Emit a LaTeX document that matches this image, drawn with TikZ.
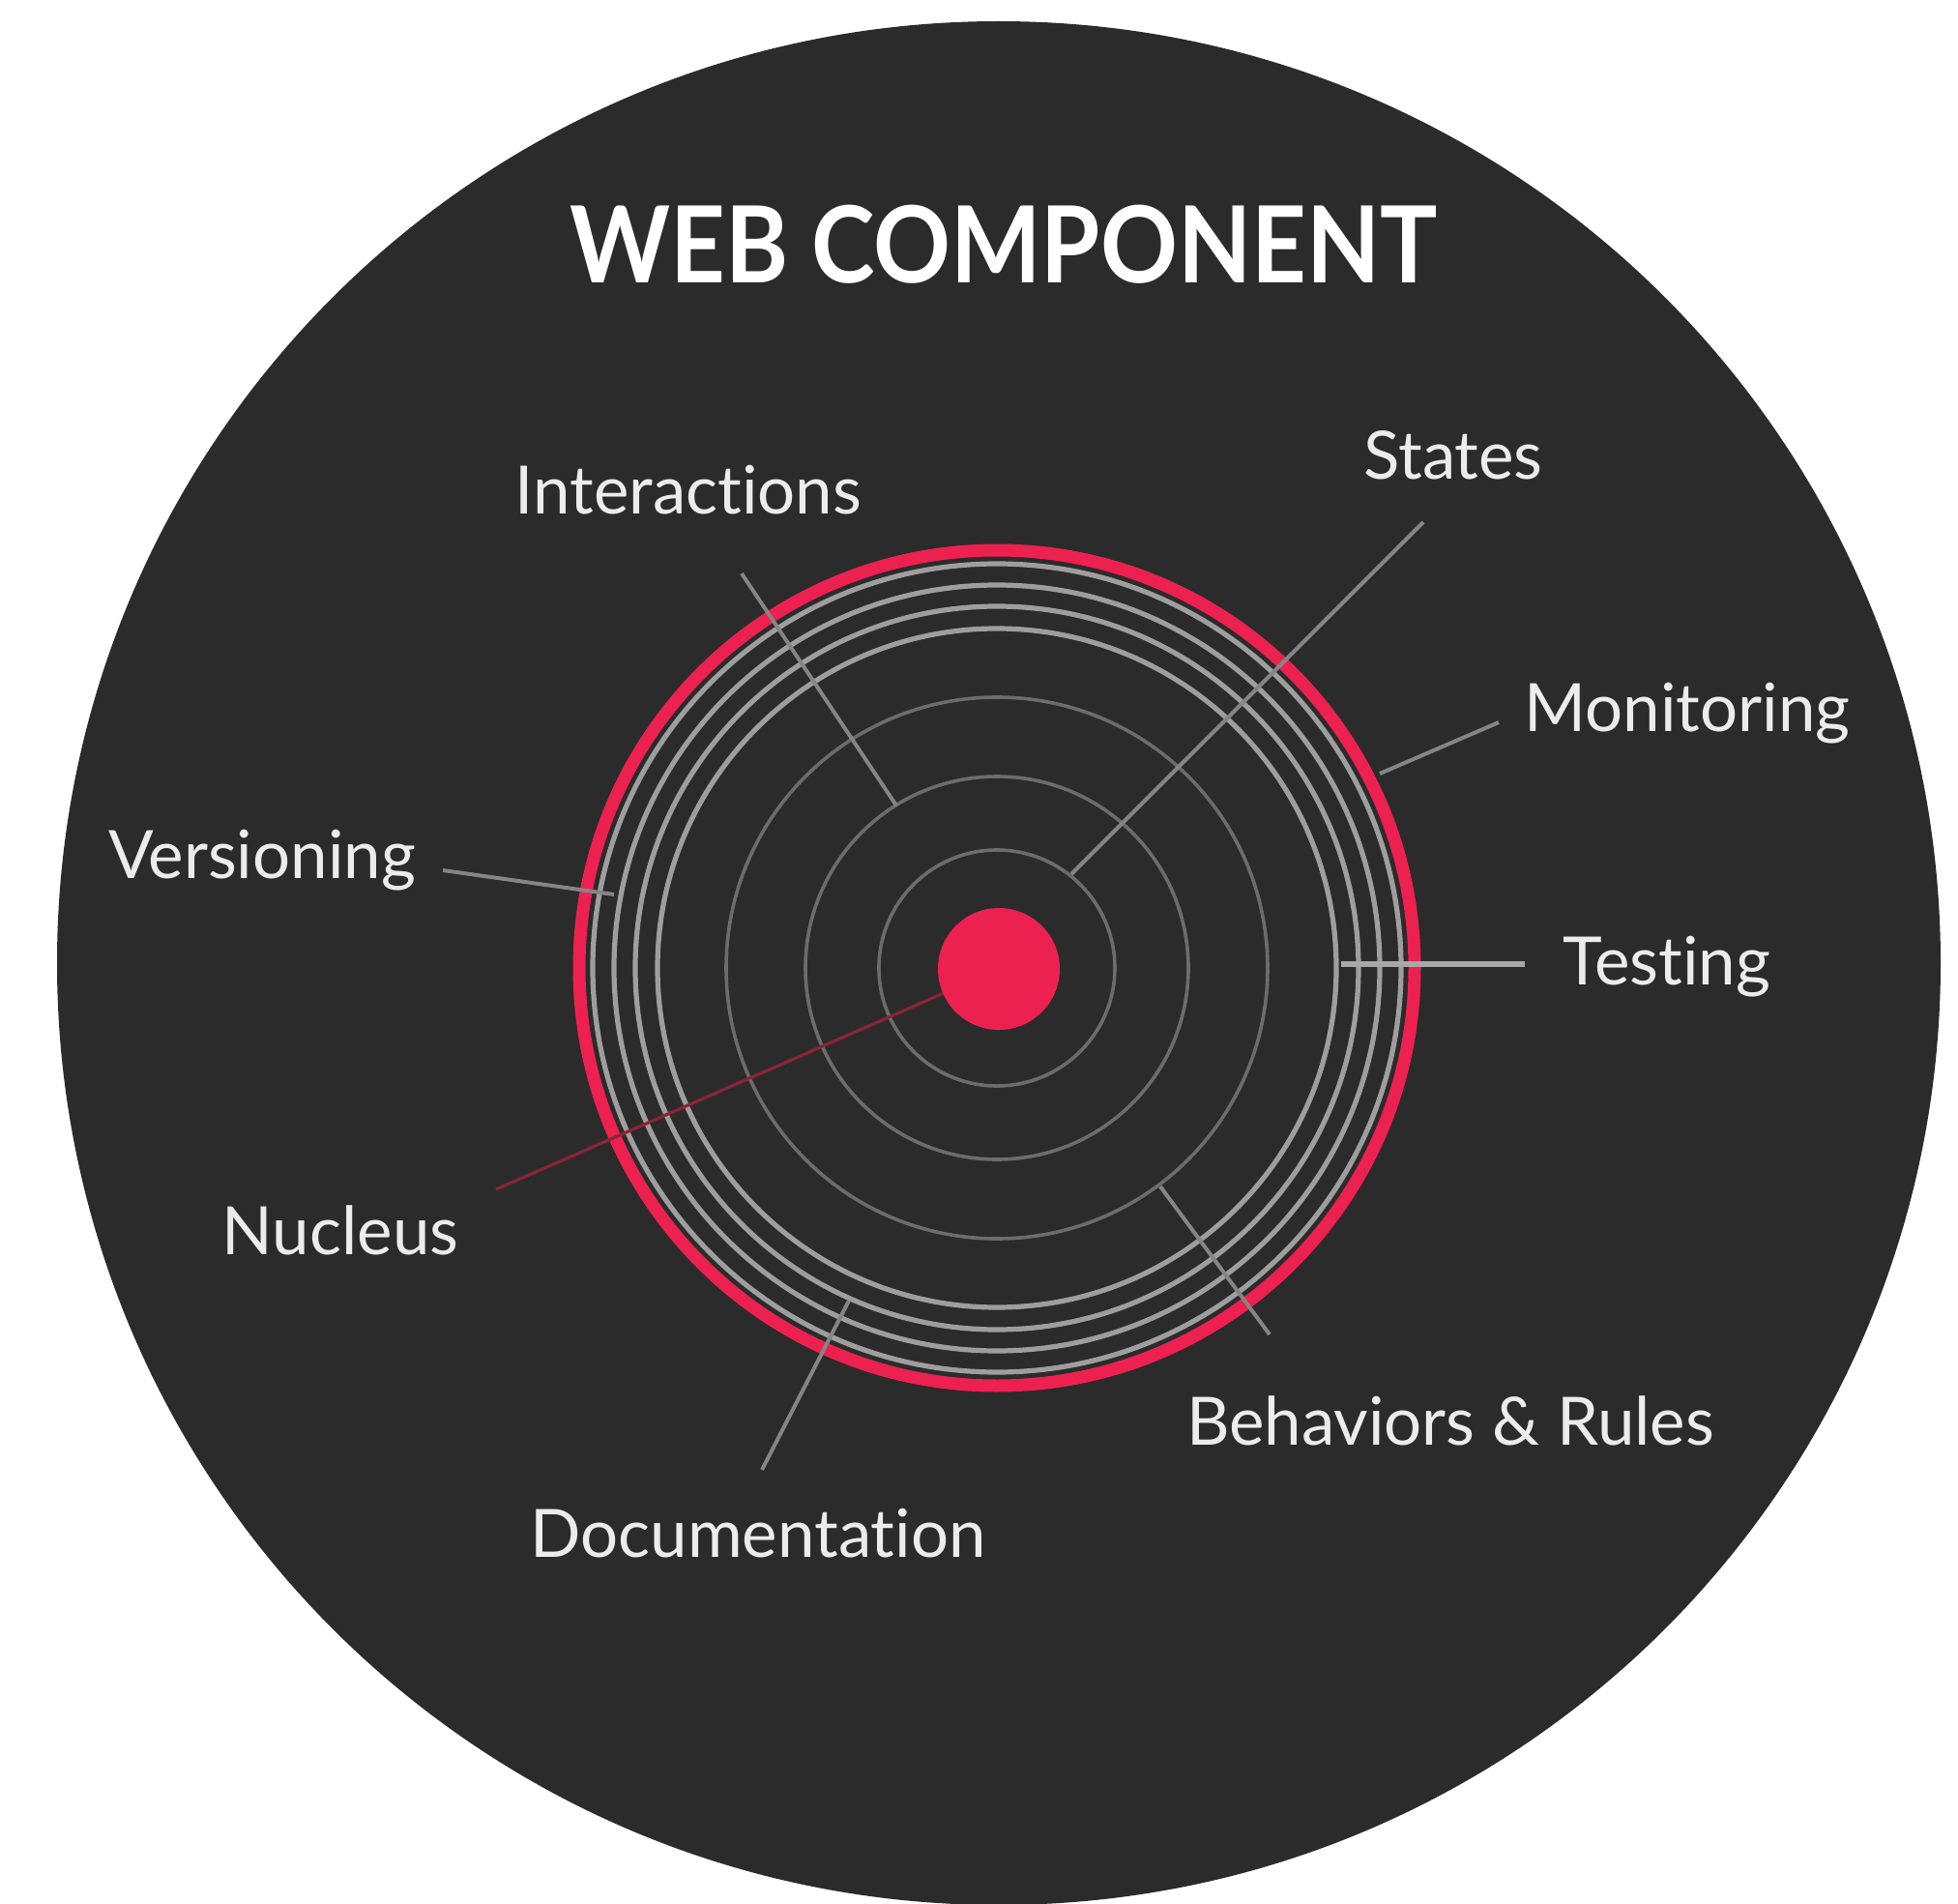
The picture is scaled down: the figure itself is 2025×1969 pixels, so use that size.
\documentclass[tikz,border=0pt]{standalone}
\usepackage{fontspec}
\setmainfont{Lato}[Ligatures=NoCommon]
\definecolor{bgdark}{HTML}{2B2B2B}
\definecolor{accent}{HTML}{EC2150}
\definecolor{ringgray}{HTML}{9E9E9E}
\definecolor{thingray}{HTML}{6C6C6C}
\definecolor{conngray}{HTML}{858585}
\definecolor{testgray}{HTML}{A8A8A8}
\definecolor{nucred}{HTML}{8A2438}
\definecolor{labelc}{HTML}{ECECEC}
\begin{document}
\begin{tikzpicture}[x=0.5pt,y=-0.5pt,
  ringw/.style={draw=ringgray, line width=2.6pt},
  ringt/.style={draw=thingray, line width=1.8pt},
  redring/.style={draw=accent, line width=6.5pt},
  conn/.style={draw=conngray, line width=2pt},
  lbl/.style={text=labelc, font=\fontsize{34.5}{38}\selectfont, anchor=base, inner sep=0pt},
  ttl/.style={text=white, font=\fontsize{55}{60}\selectfont\bfseries, anchor=base, inner sep=0pt}]
\useasboundingbox (0,0) rectangle (2025,1969);
\fill[white] (0,0) rectangle (2025,1969);
% big dark disc
\fill[bgdark] (1033,996) circle[radius=974];
% centre
\coordinate (C) at (1031,1001);
% thin rings
\draw[ringt] (C) circle[radius=122];
\draw[ringt] (C) circle[radius=198];
\draw[ringt] (C) circle[radius=280];
% white rings
\draw[ringw] (C) circle[radius=351];
\draw[ringw] (C) circle[radius=374];
\draw[ringw] (C) circle[radius=396];
\draw[ringw] (C) circle[radius=418];
% red ring
\draw[redring] (C) circle[radius=432];
% nucleus dot
\node[circle, fill=accent, minimum size=63pt, inner sep=0pt] (dot) at (1033,1002) {};

% title
\node[ttl] (title) at (1038,293) {\scalebox{0.9}[1]{WEB COMPONENT}};

% labels
\node[lbl] (interactions) at (712,531) {Interactions};
\node[lbl] (states) at (1503,495) {States};
\node[lbl] (monitoring) at (1745,756) {Monitoring};
\node[lbl] (versioning) at (271,908) {Versioning};
\node[lbl] (testing) at (1724,1018) {Testing};
\node[lbl] (nucleus) at (352,1297) {Nucleus};
\node[lbl] (behaviors) at (1500,1494) {Behaviors \& Rules};
\node[lbl] (documentation) at (784,1610) {Documentation};

% connector end points
\coordinate (iA) at (767,593);   \coordinate (iB) at (927,833);
\coordinate (sA) at (1472,540);  \coordinate (sB) at (1108,904);
\coordinate (mA) at (1550,747);  \coordinate (mB) at (1427,800);
\coordinate (vA) at (458,900);   \coordinate (vB) at (635,925);
\coordinate (tA) at (1577,997);  \coordinate (tB) at (1387,997);
\coordinate (nA) at (513,1230);
\coordinate (bA) at (1313,1380); \coordinate (bB) at (1200,1227);
\coordinate (dA) at (788,1520);  \coordinate (dB) at (878,1345);

\draw[conn] (iA) -- (iB);
\draw[conn] (sA) -- (sB);
\draw[conn] (mA) -- (mB);
\draw[conn] (vA) -- (vB);
\draw[draw=testgray, line width=3pt] (tA) -- (tB);
\draw[draw=nucred, line width=1.6pt] (nA) -- (dot);
\draw[conn] (bA) -- (bB);
\draw[conn] (dA) -- (dB);
\end{tikzpicture}
\end{document}
